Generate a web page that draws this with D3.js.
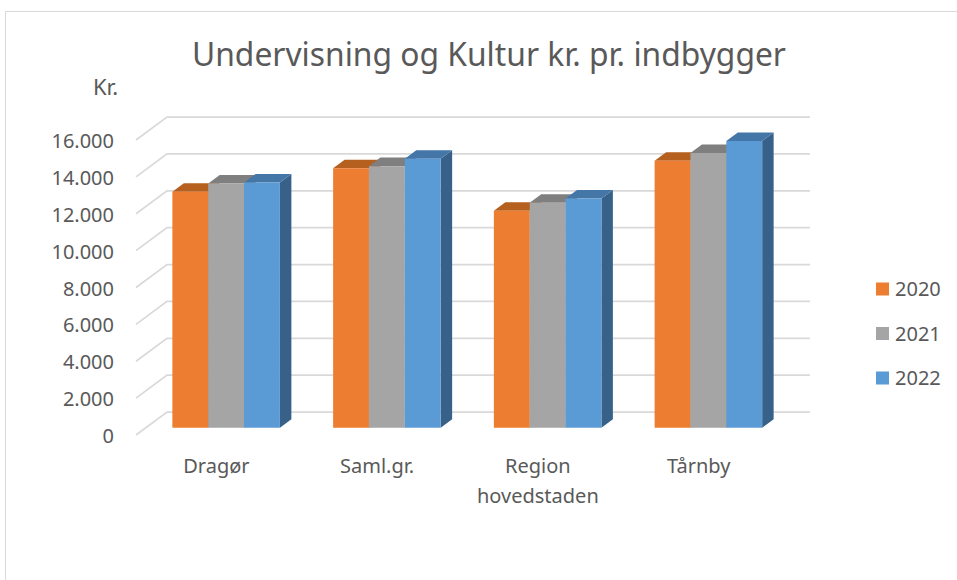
<!DOCTYPE html>
<html>
<head>
<meta charset="utf-8">
<script src="https://cdn.jsdelivr.net/npm/d3@7"></script>
<style>
  body { margin: 0; background: #fff; }
  svg { display: block; }
  text { font-family: "Noto Sans", sans-serif; fill: #595959; }
</style>
</head>
<body>
<svg id="chart" width="957" height="580"></svg>
<script>
const categories = ["Dragør", "Saml.gr.", "Region hovedstaden", "Tårnby"];
const categoryLines = [["Dragør"], ["Saml.gr."], ["Region", "hovedstaden"], ["Tårnby"]];
const series = ["2020", "2021", "2022"];
const values2020 = [12800, 14070, 11770, 14480];
const values2021 = [13250, 14190, 12200, 14900];
const values2022 = [13300, 14590, 12440, 15550];
const tickValues = [0, 2000, 4000, 6000, 8000, 10000, 12000, 14000, 16000];
const tickLabels = ["0", "2.000", "4.000", "6.000", "8.000", "10.000", "12.000", "14.000", "16.000"];
const seriesValues = [values2020, values2021, values2022];

const colors = {
  front: ["#ED7D31", "#A5A5A5", "#5B9BD5"],
  top:   ["#B5601F", "#7F7F7F", "#4576A8"],
  side:  ["#A9561C", "#7A7A7A", "#386189"]
};

const svg = d3.select("#chart");

// chart border
svg.append("rect").attr("x", 5.5).attr("y", 11.5).attr("width", 1000).attr("height", 700)
  .attr("fill", "none").attr("stroke", "#d9d9d9").attr("stroke-width", 1);

// 3D geometry
const baseY = 435, DX = 31, DY = 23;
const d0 = 0.315, d1 = 0.685;
const P = (x, h, d) => [x + d * DX, baseY - d * DY - h];

const x = d3.scaleBand().domain(categories).range([136, 779]).paddingInner(0.331).paddingOuter(0.1655);
const xs = d3.scaleBand().domain(series).range([0, x.bandwidth()]).padding(0);
const y = d3.scaleLinear().domain([0, 16000]).range([0, 295]);

// gridlines (left wall slant + back wall)
const grid = svg.append("g");
tickValues.forEach(v => {
  const h = y(v);
  const a = P(136, h, 0), b = P(136, h, 1), c = P(779, h, 1);
  grid.append("path")
    .attr("d", d3.line()([a, b, c]))
    .attr("fill", "none").attr("stroke", "#d9d9d9").attr("stroke-width", 1.75);
});

// tick labels
tickValues.forEach((v, i) => {
  const pt = P(136, y(v), 0);
  svg.append("text").attr("x", 114).attr("y", pt[1] + 1).attr("dy", "0.35em")
    .attr("text-anchor", "end").attr("font-size", 20).text(tickLabels[i]);
});

// bars
const poly = pts => pts.map(p => p.join(",")).join(" ");
const bars = svg.append("g");
categories.forEach((cat, ci) => {
  series.forEach((s, si) => {
    const v = seriesValues[si][ci];
    const xl = x(cat) + xs(s), xr = xl + xs.bandwidth();
    const h = y(v);
    const g = bars.append("g");
    g.append("polygon").attr("points", poly([P(xr, 0, d0), P(xr, h, d0), P(xr, h, d1), P(xr, 0, d1)]))
      .attr("fill", colors.side[si]);
    g.append("polygon").attr("points", poly([P(xl, h, d0), P(xr, h, d0), P(xr, h, d1), P(xl, h, d1)]))
      .attr("fill", colors.top[si]);
    g.append("polygon").attr("points", poly([P(xl, 0, d0), P(xr, 0, d0), P(xr, h, d0), P(xl, h, d0)]))
      .attr("fill", colors.front[si]);
  });
});

// category labels
categories.forEach((cat, ci) => {
  const cx = x(cat) + x.bandwidth() / 2;
  categoryLines[ci].forEach((line, li) => {
    svg.append("text").attr("x", cx).attr("y", 473 + li * 30)
      .attr("text-anchor", "middle").attr("font-size", 20).text(line);
  });
});

// title
svg.append("text").attr("x", 489).attr("y", 66).attr("text-anchor", "middle")
  .attr("font-size", 32).attr("textLength", 594).attr("lengthAdjust", "spacingAndGlyphs")
  .text("Undervisning og Kultur kr. pr. indbygger");

// y unit label
svg.append("text").attr("x", 93).attr("y", 95).attr("font-size", 22).text("Kr.");

// legend
series.forEach((s, i) => {
  const cy = 289 + i * 44.5;
  svg.append("rect").attr("x", 876).attr("y", cy - 6.5).attr("width", 13).attr("height", 13)
    .attr("fill", colors.front[i]);
  svg.append("text").attr("x", 895).attr("y", cy).attr("dy", "0.35em")
    .attr("font-size", 20).text(s);
});
</script>
</body>
</html>
